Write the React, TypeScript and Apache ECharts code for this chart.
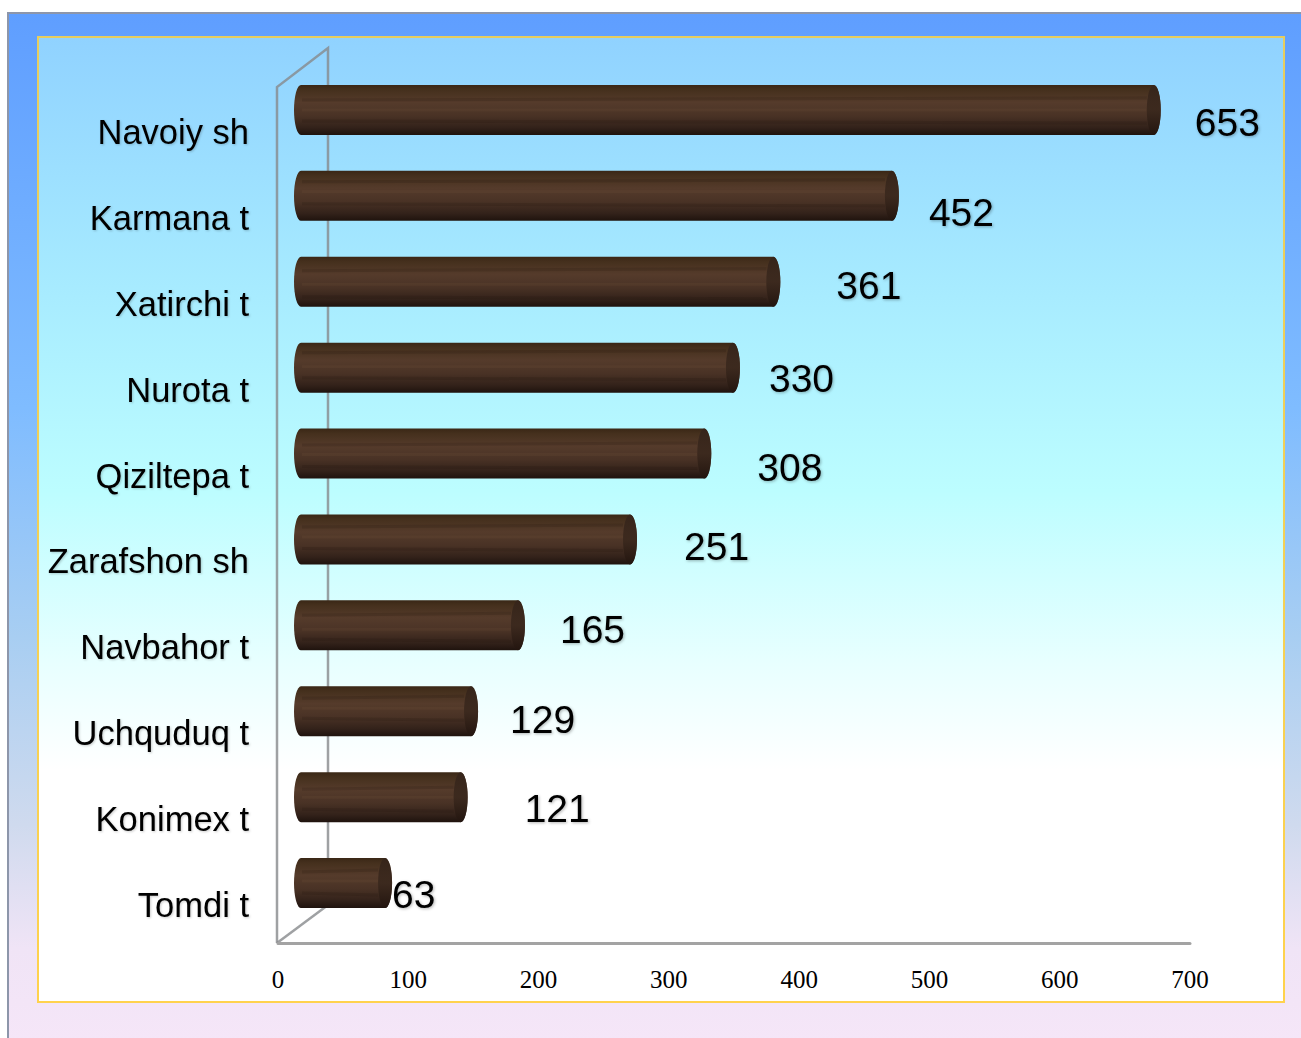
import React, { useEffect, useRef } from "react";
import * as echarts from "echarts";

const categories = ["Navoiy sh", "Karmana t", "Xatirchi t", "Nurota t", "Qiziltepa t", "Zarafshon sh", "Navbahor t", "Uchquduq t", "Konimex t", "Tomdi t"];
const values = [653, 452, 361, 330, 308, 251, 165, 129, 121, 63];
const xTicks = [0, 100, 200, 300, 400, 500, 600, 700];
// hand-placed label nudges seen in the reference (px from the bar's end / centre)
const labelDx = [34, 30, 56, 29, 46, 47, 35, 32, 57, 0];
const labelDy = [13, 17, 4, 11, 14, 7, 4, 8, 11, 11];
const grain = [
  [0.3, 0.5, 0.72], [0.22, 0.42, 0.66], [0.28, 0.55, 0.8], [0.2, 0.48, 0.7], [0.33, 0.52, 0.76],
  [0.25, 0.45, 0.68], [0.3, 0.58, 0.78], [0.24, 0.44, 0.64], [0.34, 0.5, 0.74], [0.28, 0.46, 0.7],
];

const vGrad = (stops: [number, string][]) =>
  new echarts.graphic.LinearGradient(0, 0, 0, 1, stops.map(([offset, color]) => ({ offset, color })));

function renderBar(_: any, api: any) {
  const i = api.value(1);
  const v = api.value(0);
  const [x0, yc0] = api.coord([0, i]);
  const [xv] = api.coord([v, i]);
  const L = x0 + 16;
  const R = xv + 32;
  const c = yc0 - 22;
  const T = c - 25;
  const B = c + 25;
  const rx = 7;
  const children: any[] = [
    {
      type: "path",
      shape: {
        pathData: `M${L + rx} ${T}L${R - rx} ${T}A${rx} 25 0 0 1 ${R - rx} ${B}L${L + rx} ${B}A${rx} 25 0 0 1 ${L + rx} ${T}Z`,
        layout: "none",
      },
      style: {
        fill: vGrad([
          [0, "#3a2716"], [0.1, "#45301d"], [0.35, "#553b2b"], [0.62, "#493225"], [0.85, "#33221a"], [1, "#1f130e"],
        ]),
      },
    },
  ];
  grain[i].forEach((f: number, k: number) => {
    children.push({
      type: "line",
      shape: { x1: L + 8, y1: T + 50 * f, x2: R - 14, y2: T + 50 * f + (k - 1) * 2 },
      style: { stroke: k === 1 ? "rgba(120,90,60,0.16)" : "rgba(30,18,10,0.16)", lineWidth: 3 },
    });
  });
  children.push({
    type: "ellipse",
    shape: { cx: R - rx, cy: c, rx, ry: 25 },
    style: { fill: vGrad([[0, "#35241a"], [0.5, "#3a281d"], [1, "#23150f"]]), opacity: 0.9 },
  });
  children.push({
    type: "text",
    x: R + labelDx[i],
    y: c + labelDy[i],
    style: {
      text: String(v),
      fill: "#000",
      font: '39px "Liberation Sans"',
      align: "left",
      verticalAlign: "middle",
      textShadowColor: "rgba(0,0,0,0.3)",
      textShadowBlur: 3,
      textShadowOffsetX: 1,
      textShadowOffsetY: 1,
    },
  });
  return { type: "group", children };
}

export default function App() {
  const ref = useRef<HTMLDivElement>(null);
  useEffect(() => {
    const chart = echarts.init(ref.current!, null, { renderer: "svg" });
    const wall = "rgba(135,138,140,0.8)";
    chart.setOption({
      animation: false,
      backgroundColor: "#fff",
      graphic: {
        elements: [
          {
            type: "rect", z: -10, silent: true,
            shape: { x: 8, y: 13, width: 1310, height: 1040 },
            style: {
              fill: vGrad([
                [0, "#5f9eff"], [0.38, "#7fbcff"], [0.6, "#a8cef2"], [0.78, "#cfdaee"], [0.9, "#f0e4f6"], [1, "#f6e6f8"],
              ]),
              stroke: "#8d96aa", lineWidth: 2,
            },
          },
          {
            type: "rect", z: -9, silent: true,
            shape: { x: 38, y: 37, width: 1246, height: 965 },
            style: {
              fill: vGrad([
                [0, "#90d2ff"], [0.27, "#a8ecff"], [0.47, "#bcfdff"], [0.65, "#e8ffff"], [0.76, "#ffffff"], [1, "#ffffff"],
              ]),
              stroke: vGrad([[0, "#e6cd60"], [1, "#ffd24d"]]),
              lineWidth: 2,
            },
          },
          {
            type: "polyline", z: -8, silent: true,
            shape: { points: [[277, 943], [277, 87], [328, 48], [328, 905]] },
            style: { stroke: wall, lineWidth: 2.5, fill: "none" },
          },
          {
            type: "line", z: -8, silent: true,
            shape: { x1: 277, y1: 943, x2: 328, y2: 905 },
            style: { stroke: wall, lineWidth: 2.5 },
          },
        ],
      },
      grid: { left: 278, top: 89, width: 912, height: 859 },
      xAxis: {
        type: "value",
        min: 0,
        max: 700,
        interval: 100,
        offset: -5,
        z: 3,
        axisLine: { show: true, lineStyle: { color: "#a3a3a3", width: 3 } },
        axisTick: { show: false },
        splitLine: { show: false },
        axisLabel: {
          show: true,
          margin: 24,
          color: "#000",
          fontFamily: "Liberation Serif",
          fontSize: 25,
          customValues: xTicks,
        },
      },
      yAxis: {
        type: "category",
        inverse: true,
        data: categories,
        z: 3,
        axisLine: { show: false },
        axisTick: { show: false },
        axisLabel: {
          margin: 29,
          color: "#000",
          fontFamily: "Liberation Sans",
          fontSize: 34.5,
          textShadowColor: "rgba(0,0,0,0.2)",
          textShadowBlur: 2,
          textShadowOffsetX: 1,
          textShadowOffsetY: 1,
        },
      },
      series: [
        {
          type: "custom",
          silent: true,
          renderItem: renderBar,
          encode: { x: 0, y: 1 },
          data: values.map((v, i) => [v, i]),
        },
      ],
    });
    return () => chart.dispose();
  }, []);
  return <div ref={ref} style={{ position: "absolute", left: 0, top: 0, width: 1301, height: 1038, overflow: "hidden" }} />;
}
